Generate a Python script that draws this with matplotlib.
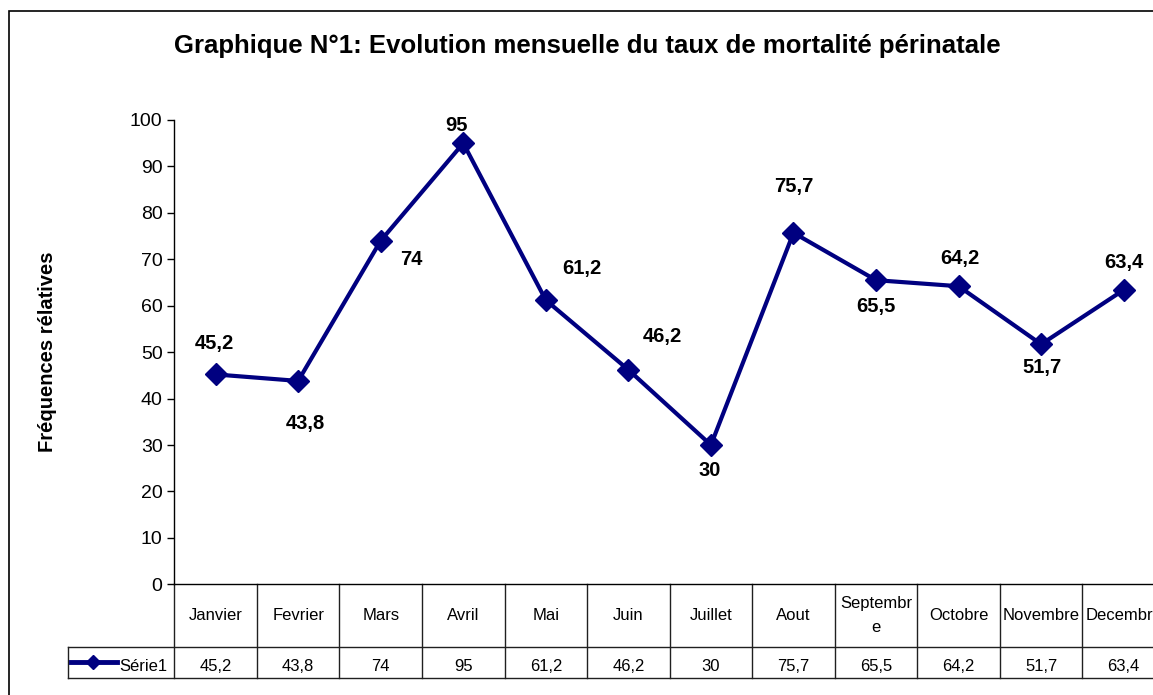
import numpy as np
import matplotlib.pyplot as plt
from matplotlib.patches import Rectangle
from matplotlib.transforms import blended_transform_factory

plt.rcParams['font.family'] = ['Liberation Sans', 'DejaVu Sans']

# data
mois = ['Janvier', 'Fevrier', 'Mars', 'Avril', 'Mai', 'Juin', 'Juillet',
        'Aout', 'Septembr\ne', 'Octobre', 'Novembre', 'Decembre']
taux = [45.2, 43.8, 74, 95, 61.2, 46.2, 30, 75.7, 65.5, 64.2, 51.7, 63.4]
serie = 'Série1'

# label offsets in pixels (dx, dy), like the excel placement
offsets = [(-1, 31), (7, -43), (31, -19), (-7, 18), (36, 32), (34, 33),
           (-1, -25), (0, 46), (0, -26), (1, 28), (1, -23), (0, 27)]

W, H = 1153, 695
navy = '#000080'

def fmt(v):
    return ('%g' % v).replace('.', ',')

fig = plt.figure(figsize=(W / 100, H / 100), dpi=100)

# outer frame (cut on right and bottom like the screenshot)
fig.patches.append(Rectangle((9 / W, -0.1), 1.2, (H - 11) / H + 0.1,
                             transform=fig.transFigure, fill=False,
                             edgecolor='black', linewidth=1.2))

x0, x1 = 174.3, 1165
y0, y1 = 584.3, 120
ax = fig.add_axes([x0 / W, (H - y0) / H, (x1 - x0) / W, (y0 - y1) / H])

x = np.arange(len(taux)) + 0.5
ax.plot(x, taux, color=navy, linewidth=3, marker='D', markersize=11.5,
        clip_on=False, zorder=3)

for xi, v, (dx, dy) in zip(x, taux, offsets):
    ax.annotate(fmt(v), (xi, v), xytext=(dx, dy), textcoords='offset pixels',
                ha='center', va='center', fontsize=14.5, fontweight='bold')

ax.set_xlim(0, len(taux))
ax.set_ylim(0, 100)
ax.set_yticks(range(0, 101, 10))
ax.tick_params(axis='y', labelsize=14, length=5, width=1, direction='out')
ax.set_xticks([])
for s in ['top', 'right']:
    ax.spines[s].set_visible(False)
ax.spines['left'].set_linewidth(1)
ax.spines['bottom'].set_linewidth(1)
ax.patch.set_visible(False)

ax.set_ylabel('Fréquences rélatives', fontsize=14.5, fontweight='bold')
ax.yaxis.set_label_coords((57 - x0) / (x1 - x0), (y0 - 352) / (y0 - y1))

fig.text(587 / W, 1 - 46 / H,
         'Graphique N°1: Evolution mensuelle du taux de mortalité périnatale',
         ha='center', va='center', fontsize=18.5, fontweight='bold')

# data table below the axis
tr = blended_transform_factory(ax.transData, ax.transAxes)
h_row = -(646.7 - y0) / (y0 - y1)
d_row = -(677.7 - y0) / (y0 - y1)
left_cell = (68.3 - x0) / ((x1 - x0) / 12)
lc = '#202020'
for i in range(len(taux) + 1):
    ax.plot([i, i], [0, d_row], color=lc, lw=1, transform=tr, clip_on=False)
for yy in [h_row, d_row]:
    ax.plot([left_cell, len(taux)], [yy, yy], color=lc, lw=1, transform=tr,
            clip_on=False)
ax.plot([left_cell, left_cell], [h_row, d_row], color=lc, lw=1, transform=tr,
        clip_on=False)

for xi, m, v in zip(x, mois, taux):
    ax.text(xi, h_row / 2, m, transform=tr, ha='center', va='center',
            fontsize=12, linespacing=1.8)
    ax.text(xi, (h_row + d_row) / 2 - 0.01, fmt(v), transform=tr,
            ha='center', va='center', fontsize=12)

# legend key in the row header
ky = (h_row + d_row) / 2
ax.plot([left_cell + 0.03, -0.694], [ky, ky], color=navy, lw=3.5,
        transform=tr, clip_on=False)
ax.plot([-0.985], [ky], color=navy, marker='D', markersize=7,
        transform=tr, clip_on=False)
ax.text(-0.67, ky - 0.01, serie, transform=tr, ha='left', va='center',
        fontsize=12)

fig.savefig('out.png', dpi=100)
